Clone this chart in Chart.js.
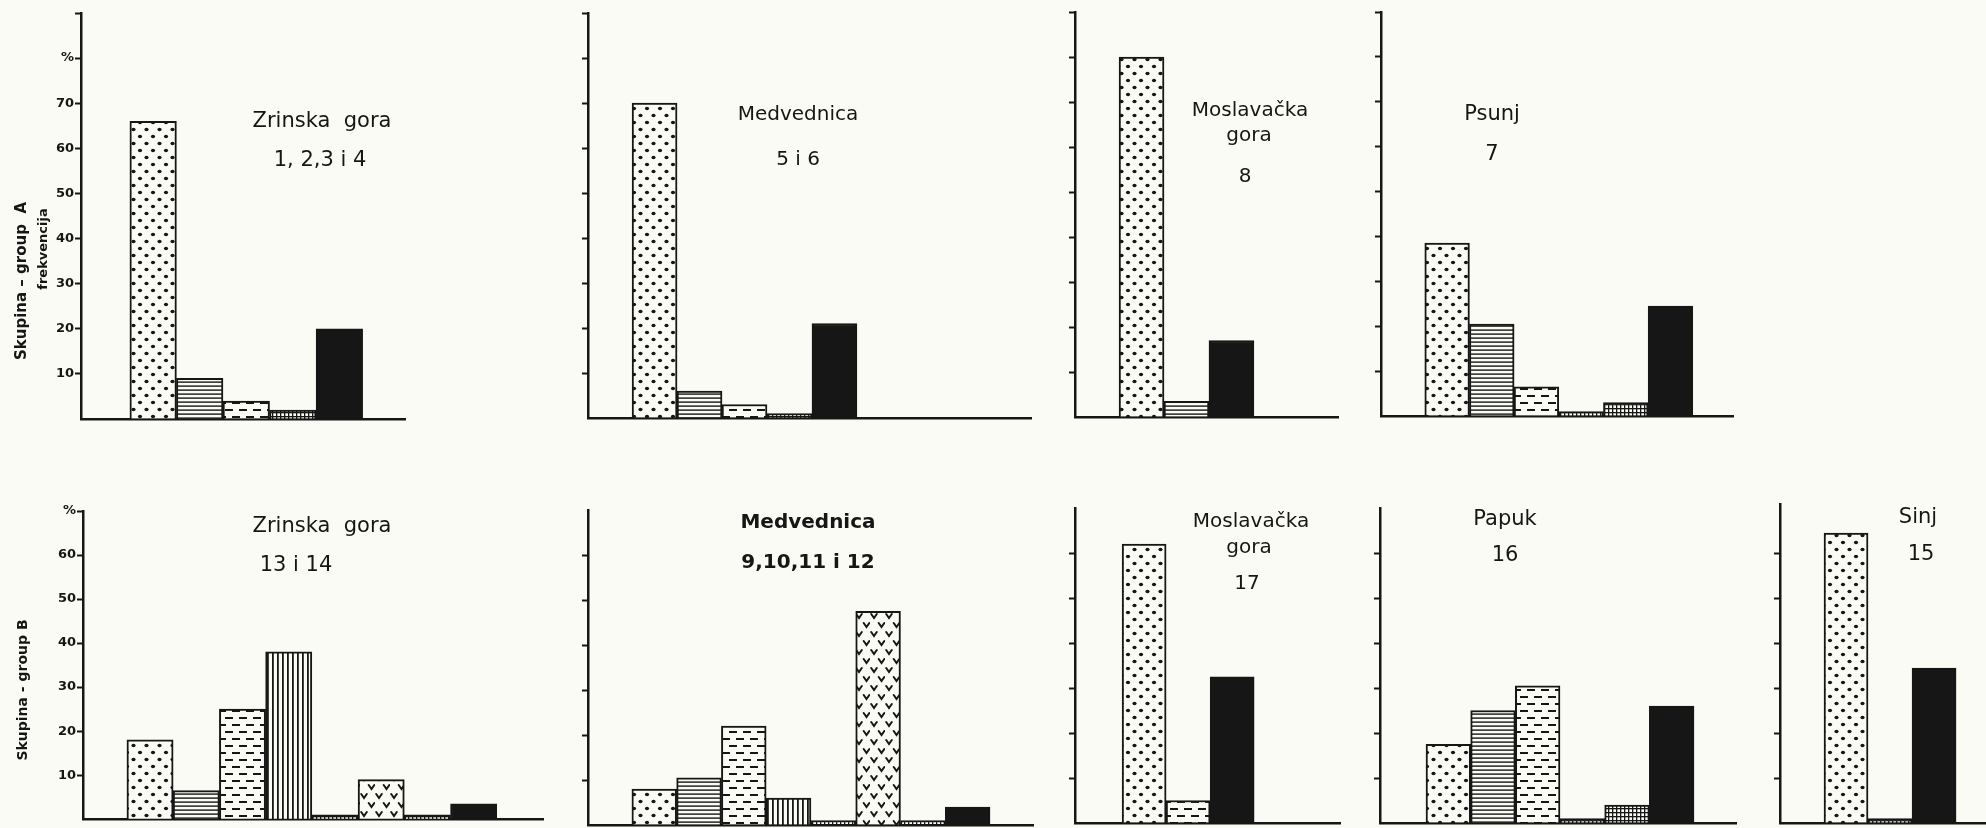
<!DOCTYPE html>
<html>
<head>
<meta charset="utf-8">
<script src="https://cdn.jsdelivr.net/npm/chart.js@4.4.1/dist/chart.umd.min.js"></script>
<style>
  html, body { margin: 0; padding: 0; background: #fbfbf6; }
  #sheet { position: relative; width: 1986px; height: 828px; overflow: hidden; background: #fbfbf6; }
  #sheet canvas { position: absolute; left: 0; top: 0; }
</style>
</head>
<body>
<div id="sheet"></div>
<script>
// ---- Frequency (%) of each class, per locality ----
const zrinskaA    = [66, 9, 4, 2, 20];
const medvednicaA = [70, 6, 3, 1, 21];
const moslavackaA = [80, 3.5, 17];
const psunjA      = [38.5, 20.5, 6.5, 1, 3, 24.5];
const zrinskaB    = [18, 6.5, 25, 38, 1, 9, 1, 3.5];
const medvednicaB = [8, 10.5, 22, 6, 1, 47.5, 1, 4];
const moslavackaB = [62, 5, 32.5];
const papukB      = [17.5, 25, 30.5, 1, 4, 26];
const sinjB       = [64.5, 1, 34.5];

// ---- Axis tick labels (one per tick, from 0 upwards) ----
const yTickLabelsA = ['', '10', '20', '30', '40', '50', '60', '70', '%'];
const yTickLabelsB = ['', '10', '20', '30', '40', '50', '60', '%'];

// ---- Captions ----
const capZrinskaA    = ['Zrinska  gora', '1, 2,3 i 4'];
const capMedvednicaA = ['Medvednica', '5 i 6'];
const capMoslavackaA = ['Moslavačka', 'gora', '8'];
const capPsunjA      = ['Psunj', '7'];
const capZrinskaB    = ['Zrinska  gora', '13 i 14'];
const capMedvednicaB = ['Medvednica', '9,10,11 i 12'];
const capMoslavackaB = ['Moslavačka', 'gora', '17'];
const capPapukB      = ['Papuk', '16'];
const capSinjB       = ['Sinj', '15'];
const rowTitleA = ['Skupina – group  A', 'frekvencija'];
const rowTitleB = ['Skupina - group B'];

// ---- Hatching used for each bar ----
const fillZrinskaA    = ['dots', 'hlines', 'dashes', 'grid', 'solid'];
const fillMedvednicaA = ['dots', 'hlines', 'dashes', 'grid', 'solid'];
const fillMoslavackaA = ['dots', 'hlines', 'solid'];
const fillPsunjA      = ['dots', 'hlines', 'dashes', 'grid', 'grid', 'solid'];
const fillZrinskaB    = ['dots', 'hlines', 'dashes', 'vlines', 'grid', 'vees', 'grid', 'solid'];
const fillMedvednicaB = ['dots', 'hlines', 'dashes', 'vlines', 'grid', 'vees', 'grid', 'solid'];
const fillMoslavackaB = ['dots', 'dashes', 'solid'];
const fillPapukB      = ['dots', 'hlines', 'dashes', 'grid', 'grid', 'solid'];
const fillSinjB       = ['dots', 'grid', 'solid'];

const W = 1986, H = 828;
const INK = '#161616';
const PAPER = '#fbfbf6';
const FONT = '"DejaVu Sans", sans-serif';

function makeFill(kind) {
  if (kind === 'solid') return INK;
  const c = document.createElement('canvas');
  const g = c.getContext('2d');
  const size = { dots: [13, 14], hlines: [8, 4], dashes: [14, 14], grid: [4, 4], vlines: [5, 4], vees: [15, 18] }[kind];
  c.width = size[0]; c.height = size[1];
  g.fillStyle = PAPER; g.fillRect(0, 0, c.width, c.height);
  g.fillStyle = INK; g.strokeStyle = INK;
  if (kind === 'dots') {
    for (const [x, y] of [[3.5, 3.5], [10, 10.5]]) {
      g.beginPath(); g.ellipse(x, y, 2.1, 1.7, 0, 0, Math.PI * 2); g.fill();
    }
  } else if (kind === 'hlines') {
    g.fillRect(0, 1.4, 8, 1.4);
  } else if (kind === 'dashes') {
    g.fillRect(1, 3, 8, 2);
    g.fillRect(8, 10, 8, 2);
    g.fillRect(-6, 10, 8, 2);
  } else if (kind === 'grid') {
    g.fillRect(0, 0, 4, 1.3);
    g.fillRect(0, 0, 1.3, 4);
  } else if (kind === 'vlines') {
    g.fillRect(2, 0, 1.8, 4);
  } else if (kind === 'vees') {
    g.lineWidth = 2; g.lineCap = 'round';
    for (const [x, y] of [[4, 4], [11.5, 13]]) {
      g.beginPath(); g.moveTo(x - 2.8, y - 2); g.lineTo(x, y + 2); g.lineTo(x + 2.8, y - 2); g.stroke();
    }
  }
  return g.createPattern(c, 'repeat');
}

// Frame of each panel (axis corner and baseline end) and empty slots before/after the bars
const panels = [
  { values: zrinskaA, fills: fillZrinskaA, ticks: yTickLabelsA, showTicks: true,
    frame: { left: 81, top: 13, right: 405, bottom: 419 }, yMax: 90, lead: 1.05, tail: 0.91,
    captions: capZrinskaA, capPos: [[322, 122], [320, 161]], capFont: '21px ' + FONT, rowTitle: rowTitleA },
  { values: medvednicaA, fills: fillMedvednicaA, ticks: yTickLabelsA, showTicks: false,
    frame: { left: 588, top: 13, right: 1031, bottom: 418 }, yMax: 90, lead: 0.98, tail: 3.87,
    captions: capMedvednicaA, capPos: [[798, 115], [798, 160]], capFont: '20px ' + FONT },
  { values: moslavackaA, fills: fillMoslavackaA, ticks: yTickLabelsA, showTicks: false,
    frame: { left: 1075, top: 12, right: 1338, bottom: 417 }, yMax: 90, lead: 0.98, tail: 1.87,
    captions: capMoslavackaA, capPos: [[1250, 111], [1249, 136], [1245, 177]], capFont: '20px ' + FONT },
  { values: psunjA, fills: fillPsunjA, ticks: yTickLabelsA, showTicks: false,
    frame: { left: 1381, top: 12, right: 1733, bottom: 416 }, yMax: 90, lead: 0.98, tail: 0.9,
    captions: capPsunjA, capPos: [[1492, 115], [1492, 155]], capFont: '21px ' + FONT },
  { values: zrinskaB, fills: fillZrinskaB, ticks: yTickLabelsB, showTicks: true,
    frame: { left: 83, top: 511, right: 543, bottom: 826 }, yMax: 70, lead: 0.95, tail: 1.0,
    captions: capZrinskaB, capPos: [[322, 527], [296, 566]], capFont: '21px ' + FONT, rowTitle: rowTitleB },
  { values: medvednicaB, fills: fillMedvednicaB, ticks: yTickLabelsB, showTicks: false,
    frame: { left: 588, top: 510, right: 1033, bottom: 825 }, yMax: 70, lead: 0.98, tail: 0.96,
    captions: capMedvednicaB, capPos: [[808, 523], [808, 563]], capFont: 'bold 20px ' + FONT },
  { values: moslavackaB, fills: fillMoslavackaB, ticks: yTickLabelsB, showTicks: false,
    frame: { left: 1075, top: 508, right: 1340, bottom: 823 }, yMax: 70, lead: 1.07, tail: 1.95,
    captions: capMoslavackaB, capPos: [[1251, 522], [1249, 548], [1247, 584]], capFont: '20px ' + FONT },
  { values: papukB, fills: fillPapukB, ticks: yTickLabelsB, showTicks: false,
    frame: { left: 1380, top: 508, right: 1736, bottom: 823 }, yMax: 70, lead: 1.03, tail: 0.94,
    captions: capPapukB, capPos: [[1505, 520], [1505, 556]], capFont: '21px ' + FONT },
  { values: sinjB, fills: fillSinjB, ticks: yTickLabelsB, showTicks: false,
    frame: { left: 1780, top: 504, right: 1986, bottom: 823 }, yMax: 71, lead: 1.0, tail: 0.68,
    captions: capSinjB, capPos: [[1918, 518], [1921, 555]], capFont: '21px ' + FONT }
];

// Where the row titles sit (rotated, centred)
const rowTitleLayout = {
  [rowTitleA[0]]: { x: 22, y: 281, font: 'bold 15px ' + FONT },
  [rowTitleA[1]]: { x: 44, y: 249, font: 'bold 13px ' + FONT },
  [rowTitleB[0]]: { x: 23, y: 690, font: 'bold 14px ' + FONT }
};

function textPlugin(p) {
  return {
    id: 'panelText',
    afterDraw(chart) {
      const ctx = chart.ctx;
      ctx.save();
      ctx.fillStyle = INK;
      ctx.textAlign = 'center';
      ctx.textBaseline = 'middle';
      ctx.font = p.capFont;
      p.captions.forEach((t, i) => ctx.fillText(t, p.capPos[i][0], p.capPos[i][1]));
      (p.rowTitle || []).forEach(t => {
        const L = rowTitleLayout[t];
        ctx.save();
        ctx.translate(L.x, L.y);
        ctx.rotate(-Math.PI / 2);
        ctx.font = L.font;
        ctx.fillText(t, 0, 0);
        ctx.restore();
      });
      ctx.restore();
    }
  };
}

const sheet = document.getElementById('sheet');
panels.forEach(p => {
  const cv = document.createElement('canvas');
  cv.width = W; cv.height = H;
  cv.style.width = W + 'px'; cv.style.height = H + 'px';
  sheet.appendChild(cv);
  const n = p.values.length;
  const f = p.frame;
  // the y-axis box must be wide enough to hold the tick labels (they are clipped to it)
  const axisW = p.showTicks ? 44 : 10;
  const topTick = p.ticks.length - 1;
  new Chart(cv, {
    type: 'bar',
    data: {
      datasets: [{
        data: p.values.map((v, i) => ({ x: i, y: v })),
        backgroundColor: p.fills.map(makeFill),
        borderColor: INK,
        borderWidth: 2,
        borderSkipped: 'start',
        categoryPercentage: 1,
        barPercentage: 1
      }]
    },
    options: {
      responsive: false,
      animation: false,
      events: [],
      devicePixelRatio: 1,
      layout: { padding: { left: f.left - axisW, top: f.top, right: W - f.right, bottom: H - f.bottom } },
      plugins: { legend: { display: false }, tooltip: { enabled: false }, title: { display: false } },
      scales: {
        x: {
          type: 'linear', offset: false,
          min: -0.5 - p.lead, max: n - 0.5 + p.tail,
          ticks: { display: false, stepSize: 1, includeBounds: false },
          grid: { display: false },
          border: { display: true, color: INK, width: 2.5 },
          afterFit: s => { s.height = 0; }
        },
        y: {
          type: 'linear', min: 0, max: p.yMax,
          ticks: {
            display: p.showTicks, stepSize: 10, includeBounds: false, autoSkip: false,
            callback: (v, i) => p.ticks[i] ?? '',
            color: INK, padding: 1,
            font: { family: FONT, size: 13, weight: 'bold' }
          },
          grid: {
            display: true, drawOnChartArea: false, drawTicks: true,
            tickLength: 6, tickWidth: 2,
            tickColor: c => {
              if (!c.tick || c.tick.value === 0) return 'rgba(0,0,0,0)';
              if (!p.showTicks && c.index === topTick && p.yMax < 80) return 'rgba(0,0,0,0)';
              return INK;
            }
          },
          border: { display: true, color: INK, width: 2.5 },
          afterFit: s => { s.width = axisW; }
        }
      }
    },
    plugins: [textPlugin(p)]
  });
});
</script>
</body>
</html>
